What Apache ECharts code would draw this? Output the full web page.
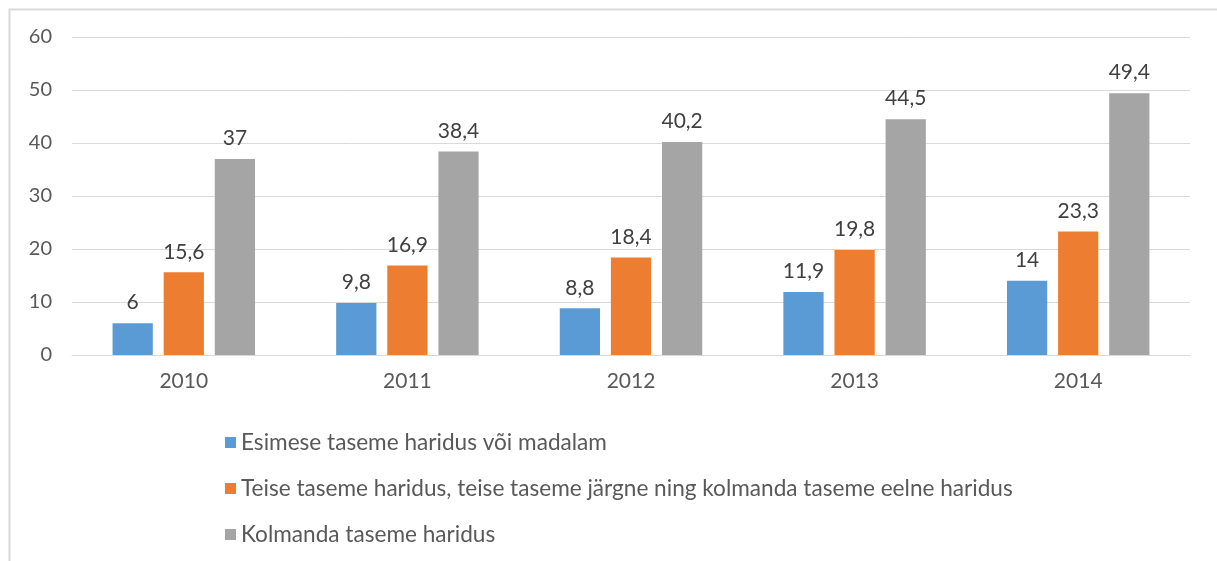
<!DOCTYPE html>
<html>
<head>
<meta charset="utf-8">
<script src="https://cdn.jsdelivr.net/npm/echarts@6/dist/echarts.min.js"></script>
<style>
  html, body { margin: 0; padding: 0; background: #fff; }
  #chart { width: 1217px; height: 561px; }
</style>
</head>
<body>
<div id="chart"></div>
<script>
const years = ["2010", "2011", "2012", "2013", "2014"];
const seriesNames = [
  "Esimese taseme haridus või madalam",
  "Teise taseme haridus, teise taseme järgne ning kolmanda taseme eelne haridus",
  "Kolmanda taseme haridus",
];
const primary = [6, 9.8, 8.8, 11.9, 14];
const secondary = [15.6, 16.9, 18.4, 19.8, 23.3];
const tertiary = [37, 38.4, 40.2, 44.5, 49.4];
const colors = ["#5B9BD5", "#ED7D31", "#A5A5A5"];

const fontFamily = "Lato, 'Open Sans', sans-serif";

const makeSeries = (name, data, color) => {
  return {
    type: "bar",
    name: name,
    data: data,
    barWidth: "18%",
    barGap: "27%",
    itemStyle: { color: color },
    label: {
      show: true,
      position: "top",
      distance: 10,
      color: "#404040",
      fontSize: 21,
      fontFamily: fontFamily,
      formatter: (p) => String(p.value).replace(".", ","),
    },
  };
};

const chart = echarts.init(document.getElementById("chart"));

const option = {
  animation: false,
  backgroundColor: "#fff",
  graphic: [
    {
      type: "rect",
      left: 7,
      top: 7,
      shape: { width: 1215, height: 558 },
      style: { fill: "none", stroke: "#d9d9d9", lineWidth: 2 },
      silent: true,
    },
  ],
  grid: { left: 72, right: 27, top: 37, bottom: 206 },
  legend: {
    orient: "vertical",
    left: 220,
    top: 426,
    itemGap: 23,
    itemWidth: 11,
    itemHeight: 11,
    icon: "rect",
    textStyle: { color: "#595959", fontSize: 22.6, fontFamily: fontFamily },
    data: seriesNames,
  },
  xAxis: {
    type: "category",
    data: years,
    axisLine: { lineStyle: { color: "#d9d9d9", width: 1 } },
    axisTick: { show: false },
    axisLabel: { color: "#595959", fontSize: 21, fontFamily: fontFamily, margin: 16 },
  },
  yAxis: {
    type: "value",
    min: 0,
    max: 60,
    interval: 10,
    axisLine: { show: false },
    axisTick: { show: false },
    axisLabel: { color: "#595959", fontSize: 20, fontFamily: fontFamily, margin: 20 },
    splitLine: { lineStyle: { color: "#d9d9d9", width: 1 } },
  },
  series: [
    makeSeries(seriesNames[0], primary, colors[0]),
    makeSeries(seriesNames[1], secondary, colors[1]),
    makeSeries(seriesNames[2], tertiary, colors[2]),
  ],
};

chart.setOption(option);
</script>
</body>
</html>
